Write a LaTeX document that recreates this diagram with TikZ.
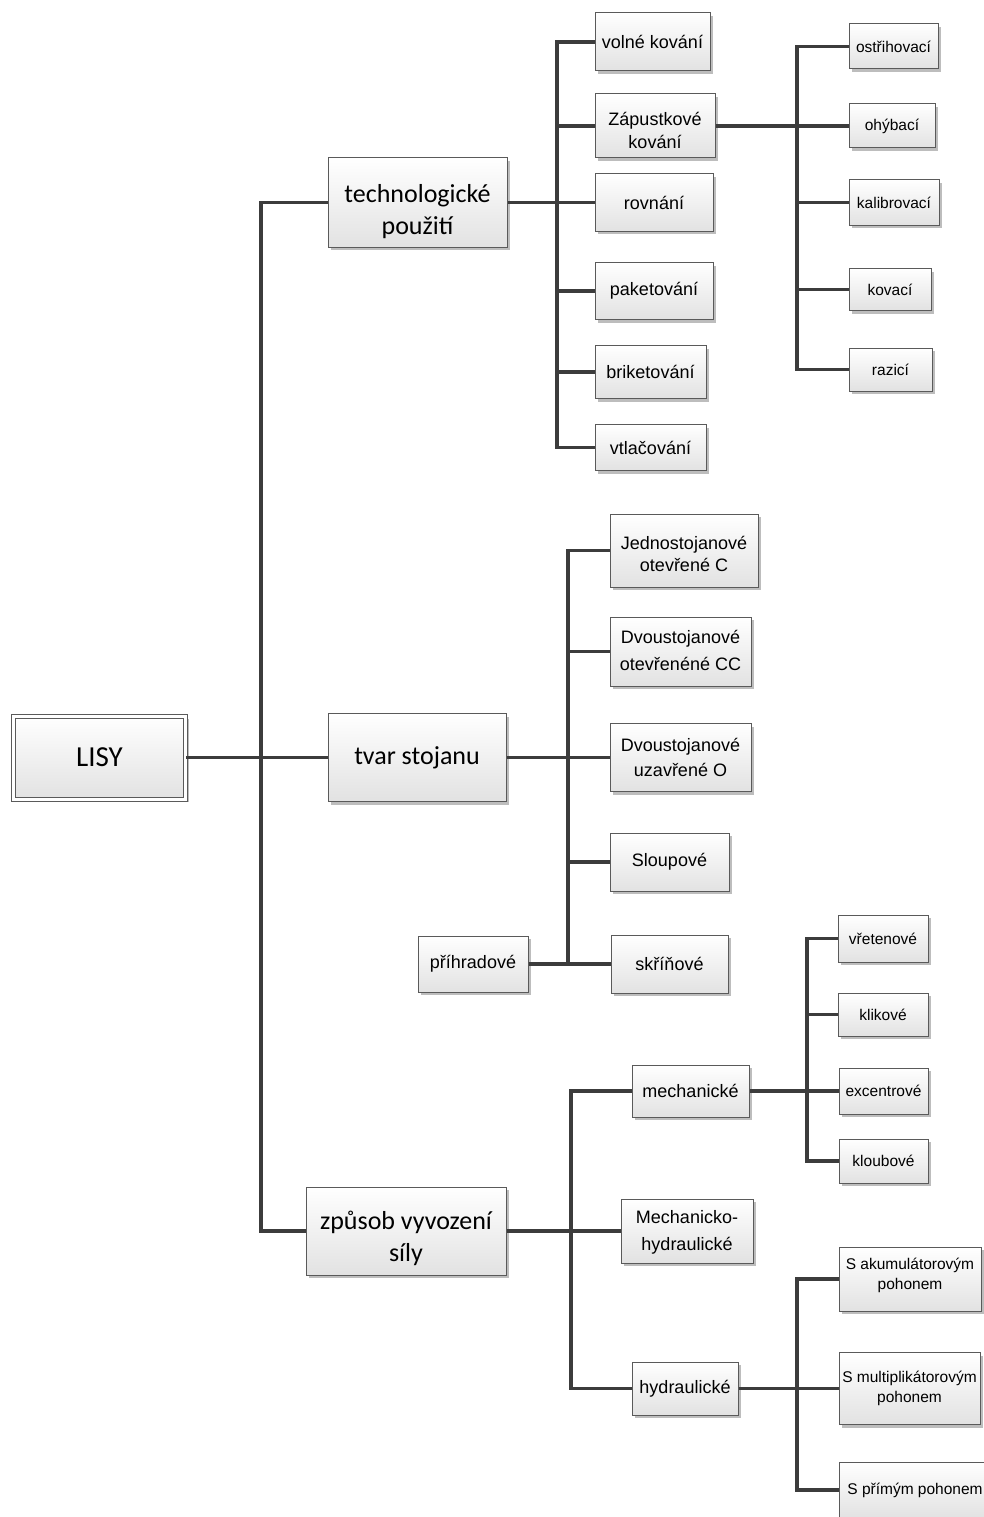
\documentclass[tikz,border=0pt]{standalone}
\usepackage{fontspec}
\setmainfont{Liberation Sans}
\newfontfamily\calib{Carlito}
\usetikzlibrary{shadows}
\definecolor{boxline}{HTML}{5A5A5A}
\definecolor{boxfill}{HTML}{E2E2E2}
\definecolor{shade}{HTML}{BDBDBD}
\definecolor{wire}{HTML}{3C3C3C}
% two lines of text, moved down by #1
\newcommand{\twolines}[2]{\raisebox{#1}[0pt][0pt]{\begin{tabular}{@{}c@{}}#2\end{tabular}}}

\begin{document}
\begin{tikzpicture}[x=1pt,y=-1pt]

\tikzset{box/.style = {shape=rectangle, draw=boxline, line width=1pt, top color=white, bottom color=boxfill, drop shadow={shadow xshift=3pt, shadow yshift=-3pt, fill=shade, opacity=1}, align=center, inner sep=0pt}}
\tikzset{big/.style = {box, font=\calib\fontsize{26}{32}\selectfont}}
\tikzset{mid/.style = {box, font=\fontsize{18}{24}\selectfont}}
\tikzset{small/.style = {box, font=\fontsize{15.5}{20}\selectfont}}
\tikzset{edge/.style = {draw=wire, line width=3.2pt}}
\clip (0,0) rectangle (984,1517);
%boxes
\node[big, double=white, double distance=3pt, minimum width=172pt, minimum height=83pt, font=\calib\fontsize{29}{32}\selectfont] (lisy) at (99.5,757.5) {LISY};
\node[big, minimum width=179pt, minimum height=89pt] (tech) at (417.5,202.5) {\twolines{-16pt}{technologické\\použití}};
\node[big, minimum width=178pt, minimum height=88pt] (tvar) at (417,757.5) {tvar stojanu};
\node[big, minimum width=200pt, minimum height=88pt] (zpusob) at (406,1231) {\twolines{-14pt}{způsob vyvození\\síly}};
%technologicke pouziti
\node[mid, minimum width=115pt, minimum height=58pt] (volne) at (652.5,42) {volné kování};
\node[mid, minimum width=120pt, minimum height=64pt, font=\fontsize{18}{23}\selectfont] (zapust) at (655,126) {\twolines{-11pt}{Zápustkové\\kování}};
\node[mid, minimum width=118pt, minimum height=57pt] (rovnani) at (654,202.5) {rovnání};
\node[mid, minimum width=118pt, minimum height=57pt] (paket) at (654,291) {paketování};
\node[mid, minimum width=111pt, minimum height=53pt] (briket) at (650.5,372) {briketování};
\node[mid, minimum width=111pt, minimum height=46pt] (vtlac) at (650.5,447.5) {vtlačování};
\node[small, minimum width=89pt, minimum height=45pt] (ostrih) at (893.5,46.5) {ostřihovací};
\node[small, minimum width=86pt, minimum height=44pt] (ohyb) at (892,126) {ohýbací};
\node[small, minimum width=90pt, minimum height=45pt] (kalib) at (894,202.5) {kalibrovací};
\node[small, minimum width=82pt, minimum height=42pt] (kovaci) at (890,289.5) {kovací};
\node[small, minimum width=83pt, minimum height=43pt] (razici) at (890.5,369.5) {razicí};
%tvar stojanu
\node[mid, minimum width=148pt, minimum height=73pt, font=\fontsize{18}{21.5}\selectfont] (jedno) at (684,550.5) {\twolines{-10pt}{Jednostojanové\\otevřené C}};
\node[mid, minimum width=141pt, minimum height=69pt, font=\fontsize{18}{27}\selectfont] (dvoucc) at (680.5,651.5) {\twolines{-4.5pt}{Dvoustojanové\\otevřenéné CC}};
\node[mid, minimum width=141pt, minimum height=68pt, font=\fontsize{18}{25}\selectfont] (dvouo) at (680.5,757.5) {\twolines{-6pt}{Dvoustojanové\\uzavřené O}};
\node[mid, minimum width=119pt, minimum height=58pt] (sloup) at (669.5,862) {Sloupové};
\node[mid, minimum width=117pt, minimum height=58pt] (skrin) at (669.5,964) {skříňové};
\node[mid, minimum width=110pt, minimum height=56pt] (prihrad) at (473,964) {příhradové};
%zpusob vyvozeni sily
\node[mid, minimum width=117pt, minimum height=52pt] (mech) at (690.5,1091) {mechanické};
\node[mid, minimum width=132pt, minimum height=64pt, font=\fontsize{18}{27}\selectfont] (mechhyd) at (687,1231) {\twolines{-4.5pt}{Mechanicko-\\hydraulické}};
\node[mid, minimum width=106pt, minimum height=53pt] (hydr) at (685,1388.5) {hydraulické};
\node[small, minimum width=90pt, minimum height=47pt] (vreten) at (883,938.5) {vřetenové};
\node[small, minimum width=90pt, minimum height=43pt] (klik) at (883,1014.5) {klikové};
\node[small, minimum width=89pt, minimum height=46pt] (excent) at (883.5,1091) {excentrové};
\node[small, minimum width=89pt, minimum height=44pt] (kloub) at (883.5,1161) {kloubové};
\node[small, minimum width=142pt, minimum height=64pt] (akum) at (910,1279) {\twolines{0pt}{S akumulátorovým\\pohonem}};
\node[small, minimum width=141pt, minimum height=72pt] (multi) at (909.5,1388.5) {\twolines{-4pt}{S multiplikátorovým\\pohonem}};
\node[small, minimum width=152pt, minimum height=56pt] (primy) at (915,1490) {S přímým pohonem};
%junctions
\coordinate (j0) at (261,757.5);
\coordinate (j1) at (557,202.5);
\coordinate (j2) at (797,126);
\coordinate (j3) at (568,757.5);
\coordinate (j4) at (571,1231);
\coordinate (j5) at (807,1091);
\coordinate (j6) at (797,1388.5);
%edges
\draw[edge] (lisy) -- (j0);
\draw[edge] (j0) |- (tech);
\draw[edge] (j0) -- (tvar);
\draw[edge] (j0) |- (zpusob);
\draw[edge] (tech) -- (j1);
\foreach \n in {volne,zapust,rovnani,paket,briket,vtlac}
  \draw[edge] (j1) |- (\n);
\draw[edge] (zapust) -- (j2);
\foreach \n in {ostrih,ohyb,kalib,kovaci,razici}
  \draw[edge] (j2) |- (\n);
\draw[edge] (tvar) -- (j3);
\foreach \n in {jedno,dvoucc,dvouo,sloup,skrin}
  \draw[edge] (j3) |- (\n);
\draw[edge] (prihrad) -- (skrin);
\draw[edge] (zpusob) -- (j4);
\foreach \n in {mech,mechhyd,hydr}
  \draw[edge] (j4) |- (\n);
\draw[edge] (mech) -- (j5);
\foreach \n in {vreten,klik,excent,kloub}
  \draw[edge] (j5) |- (\n);
\draw[edge] (hydr) -- (j6);
\foreach \n in {akum,multi,primy}
  \draw[edge] (j6) |- (\n);

\end{tikzpicture}
\end{document}
